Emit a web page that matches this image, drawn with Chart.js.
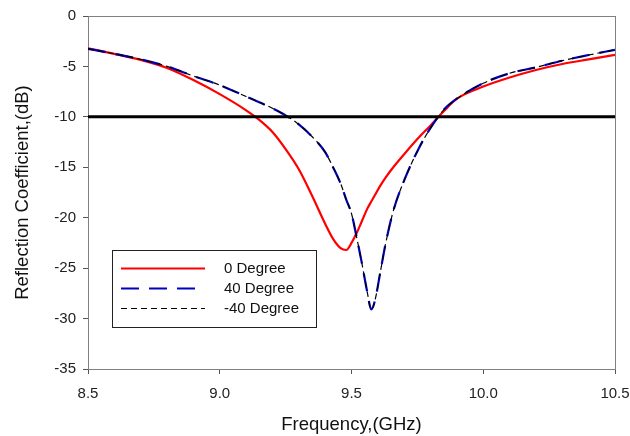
<!DOCTYPE html>
<html>
<head>
<meta charset="utf-8">
<script src="https://cdn.jsdelivr.net/npm/chart.js@4/dist/chart.umd.min.js"></script>
<style>
  body { margin: 0; background: #fff; }
  #wrap { width: 630px; height: 436px; }
</style>
</head>
<body>
<div id="wrap"><canvas id="refl"></canvas></div>
<script>
// frequency points (GHz)
const freq = [8.5, 8.6, 8.7, 8.8, 8.9, 9.0, 9.1, 9.15, 9.2, 9.25, 9.3, 9.35, 9.4, 9.43, 9.46, 9.48,
              9.5, 9.52, 9.54, 9.56, 9.575, 9.59, 9.61, 9.63, 9.66, 9.7, 9.75, 9.8, 9.85, 9.9,
              10.0, 10.1, 10.2, 10.3, 10.4, 10.5]

// reflection coefficient (dB)
const zeroDeg = [-3.2, -3.75, -4.35, -5.15, -6.35, -7.75, -9.35, -10.3, -11.5, -13.2, -15.2, -17.8, -20.6, -22.1, -23.05, -23.2,
                 -22.5, -21.5, -20.3, -19.1, -18.4, -17.7, -16.8, -16.0, -14.95, -13.7, -12.2, -10.85, -9.45, -8.2,
                 -7.0, -6.1, -5.35, -4.76, -4.3, -3.85]
const fortyDeg = [-3.25, -3.75, -4.3, -5.0, -5.95, -6.85, -7.98, -8.55, -9.15, -9.85, -10.75, -11.95, -13.5, -15.0, -16.7, -18.2,
                  -19.6, -22.0, -24.6, -27.4, -29.1, -28.1, -25.3, -22.5, -19.2, -16.3, -13.4, -11.1, -9.3, -8.2,
                  -6.67, -5.68, -5.09, -4.43, -3.87, -3.35]
const minusFortyDeg = [-3.25, -3.75, -4.3, -5.0, -5.95, -6.85, -7.98, -8.55, -9.15, -9.85, -10.75, -11.95, -13.5, -15.0, -16.7, -18.2,
                       -19.6, -22.0, -24.6, -27.4, -29.1, -28.1, -25.3, -22.5, -19.2, -16.3, -13.4, -11.1, -9.3, -8.2,
                       -6.67, -5.68, -5.09, -4.43, -3.87, -3.35]

// -10 dB reference line
const refFreq = [8.5, 10.5]
const refLevel = [-10, -10]

const legendNames = ['0 Degree', '40 Degree', '-40 Degree']

function pts(xs, ys){
    let out = []
    for(let i=0; i<xs.length; i++){
        out.push({x: xs[i], y: ys[i]})
    }
    return out
}

const font = "'Liberation Sans', Arial, sans-serif"

// frame round the plot + legend box inside it
const framePlugin = {
    id: 'frame',
    beforeDatasetsDraw(chart){
        const a = chart.chartArea
        const c = chart.ctx
        c.save()
        c.strokeStyle = '#808080'
        c.lineWidth = 1
        c.strokeRect(a.left + 0.5, a.top + 0.5, a.right - a.left, a.bottom - a.top)
        c.restore()
    },
    afterDraw(chart){
        const c = chart.ctx
        const a = chart.chartArea
        const bx = a.left + 24, by = a.top + 234, bw = 204, bh = 77
        c.save()
        c.fillStyle = '#fff'
        c.fillRect(bx, by, bw, bh)
        c.strokeStyle = '#222'
        c.lineWidth = 1
        c.strokeRect(bx + 0.5, by + 0.5, bw, bh)
        const order = [3, 2, 1]
        for(let i=0; i<3; i++){
            const ds = chart.data.datasets[order[i]]
            const y = by + 18.5 + i * 20
            c.beginPath()
            c.strokeStyle = ds.borderColor
            c.lineWidth = ds.borderWidth
            c.setLineDash(ds.borderDash || [])
            c.moveTo(bx + 9, y)
            c.lineTo(bx + 93, y)
            c.stroke()
            c.setLineDash([])
            c.fillStyle = '#111'
            c.font = '15px ' + font
            c.textBaseline = 'middle'
            c.fillText(legendNames[i], bx + 112, y)
        }
        c.restore()
    }
}

const ctx = document.getElementById('refl').getContext('2d')
const reflChart = new Chart(ctx, {
    type: 'line',
    data: {
        datasets: [
            {
                label: 'ref',
                data: pts(refFreq, refLevel),
                borderColor: '#000',
                borderWidth: 3,
                pointRadius: 0
            },
            {
                label: legendNames[2],
                data: pts(freq, minusFortyDeg),
                borderColor: '#000',
                borderWidth: 1.2,
                borderDash: [6, 4],
                pointRadius: 0,
                cubicInterpolationMode: 'monotone'
            },
            {
                label: legendNames[1],
                data: pts(freq, fortyDeg),
                borderColor: '#0000c0',
                borderWidth: 2.2,
                borderDash: [18, 10],
                pointRadius: 0,
                cubicInterpolationMode: 'monotone'
            },
            {
                label: legendNames[0],
                data: pts(freq, zeroDeg),
                borderColor: '#ff0000',
                borderWidth: 2.2,
                pointRadius: 0,
                cubicInterpolationMode: 'monotone'
            }
        ]
    },
    options: {
        responsive: true,
        maintainAspectRatio: false,
        animation: false,
        layout: { padding: { top: 16, right: 15, left: 12, bottom: 0 } },
        plugins: {
            legend: { display: false },
            tooltip: { enabled: false }
        },
        scales: {
            x: {
                type: 'linear',
                min: 8.5,
                max: 10.5,
                ticks: {
                    stepSize: 0.5,
                    color: '#222',
                    font: { family: font, size: 15 },
                    padding: 11,
                    maxRotation: 0,
                    callback: v => v.toFixed(1)
                },
                grid: { drawOnChartArea: false, tickLength: 5, color: '#555' },
                border: { color: '#808080' },
                title: {
                    display: true,
                    text: 'Frequency,(GHz)',
                    color: '#111',
                    font: { family: font, size: 18.5 },
                    padding: { top: 6, bottom: 0 }
                },
                afterFit(scale){
                    scale.height = 67
                    scale.paddingLeft = 0
                    scale.paddingRight = 0
                }
            },
            y: {
                min: -35,
                max: 0,
                ticks: {
                    stepSize: 5,
                    color: '#222',
                    font: { family: font, size: 15 },
                    padding: 7
                },
                grid: { drawOnChartArea: false, tickLength: 5, color: '#555' },
                border: { color: '#808080' },
                title: {
                    display: true,
                    text: 'Reflection Coefficient,(dB)',
                    color: '#111',
                    font: { family: font, size: 18.5 },
                    padding: { top: 0, bottom: 2 }
                },
                afterFit(scale){
                    scale.width = 76
                    scale.paddingTop = 0
                    scale.paddingBottom = 0
                }
            }
        }
    },
    plugins: [framePlugin]
})
</script>
</body>
</html>
